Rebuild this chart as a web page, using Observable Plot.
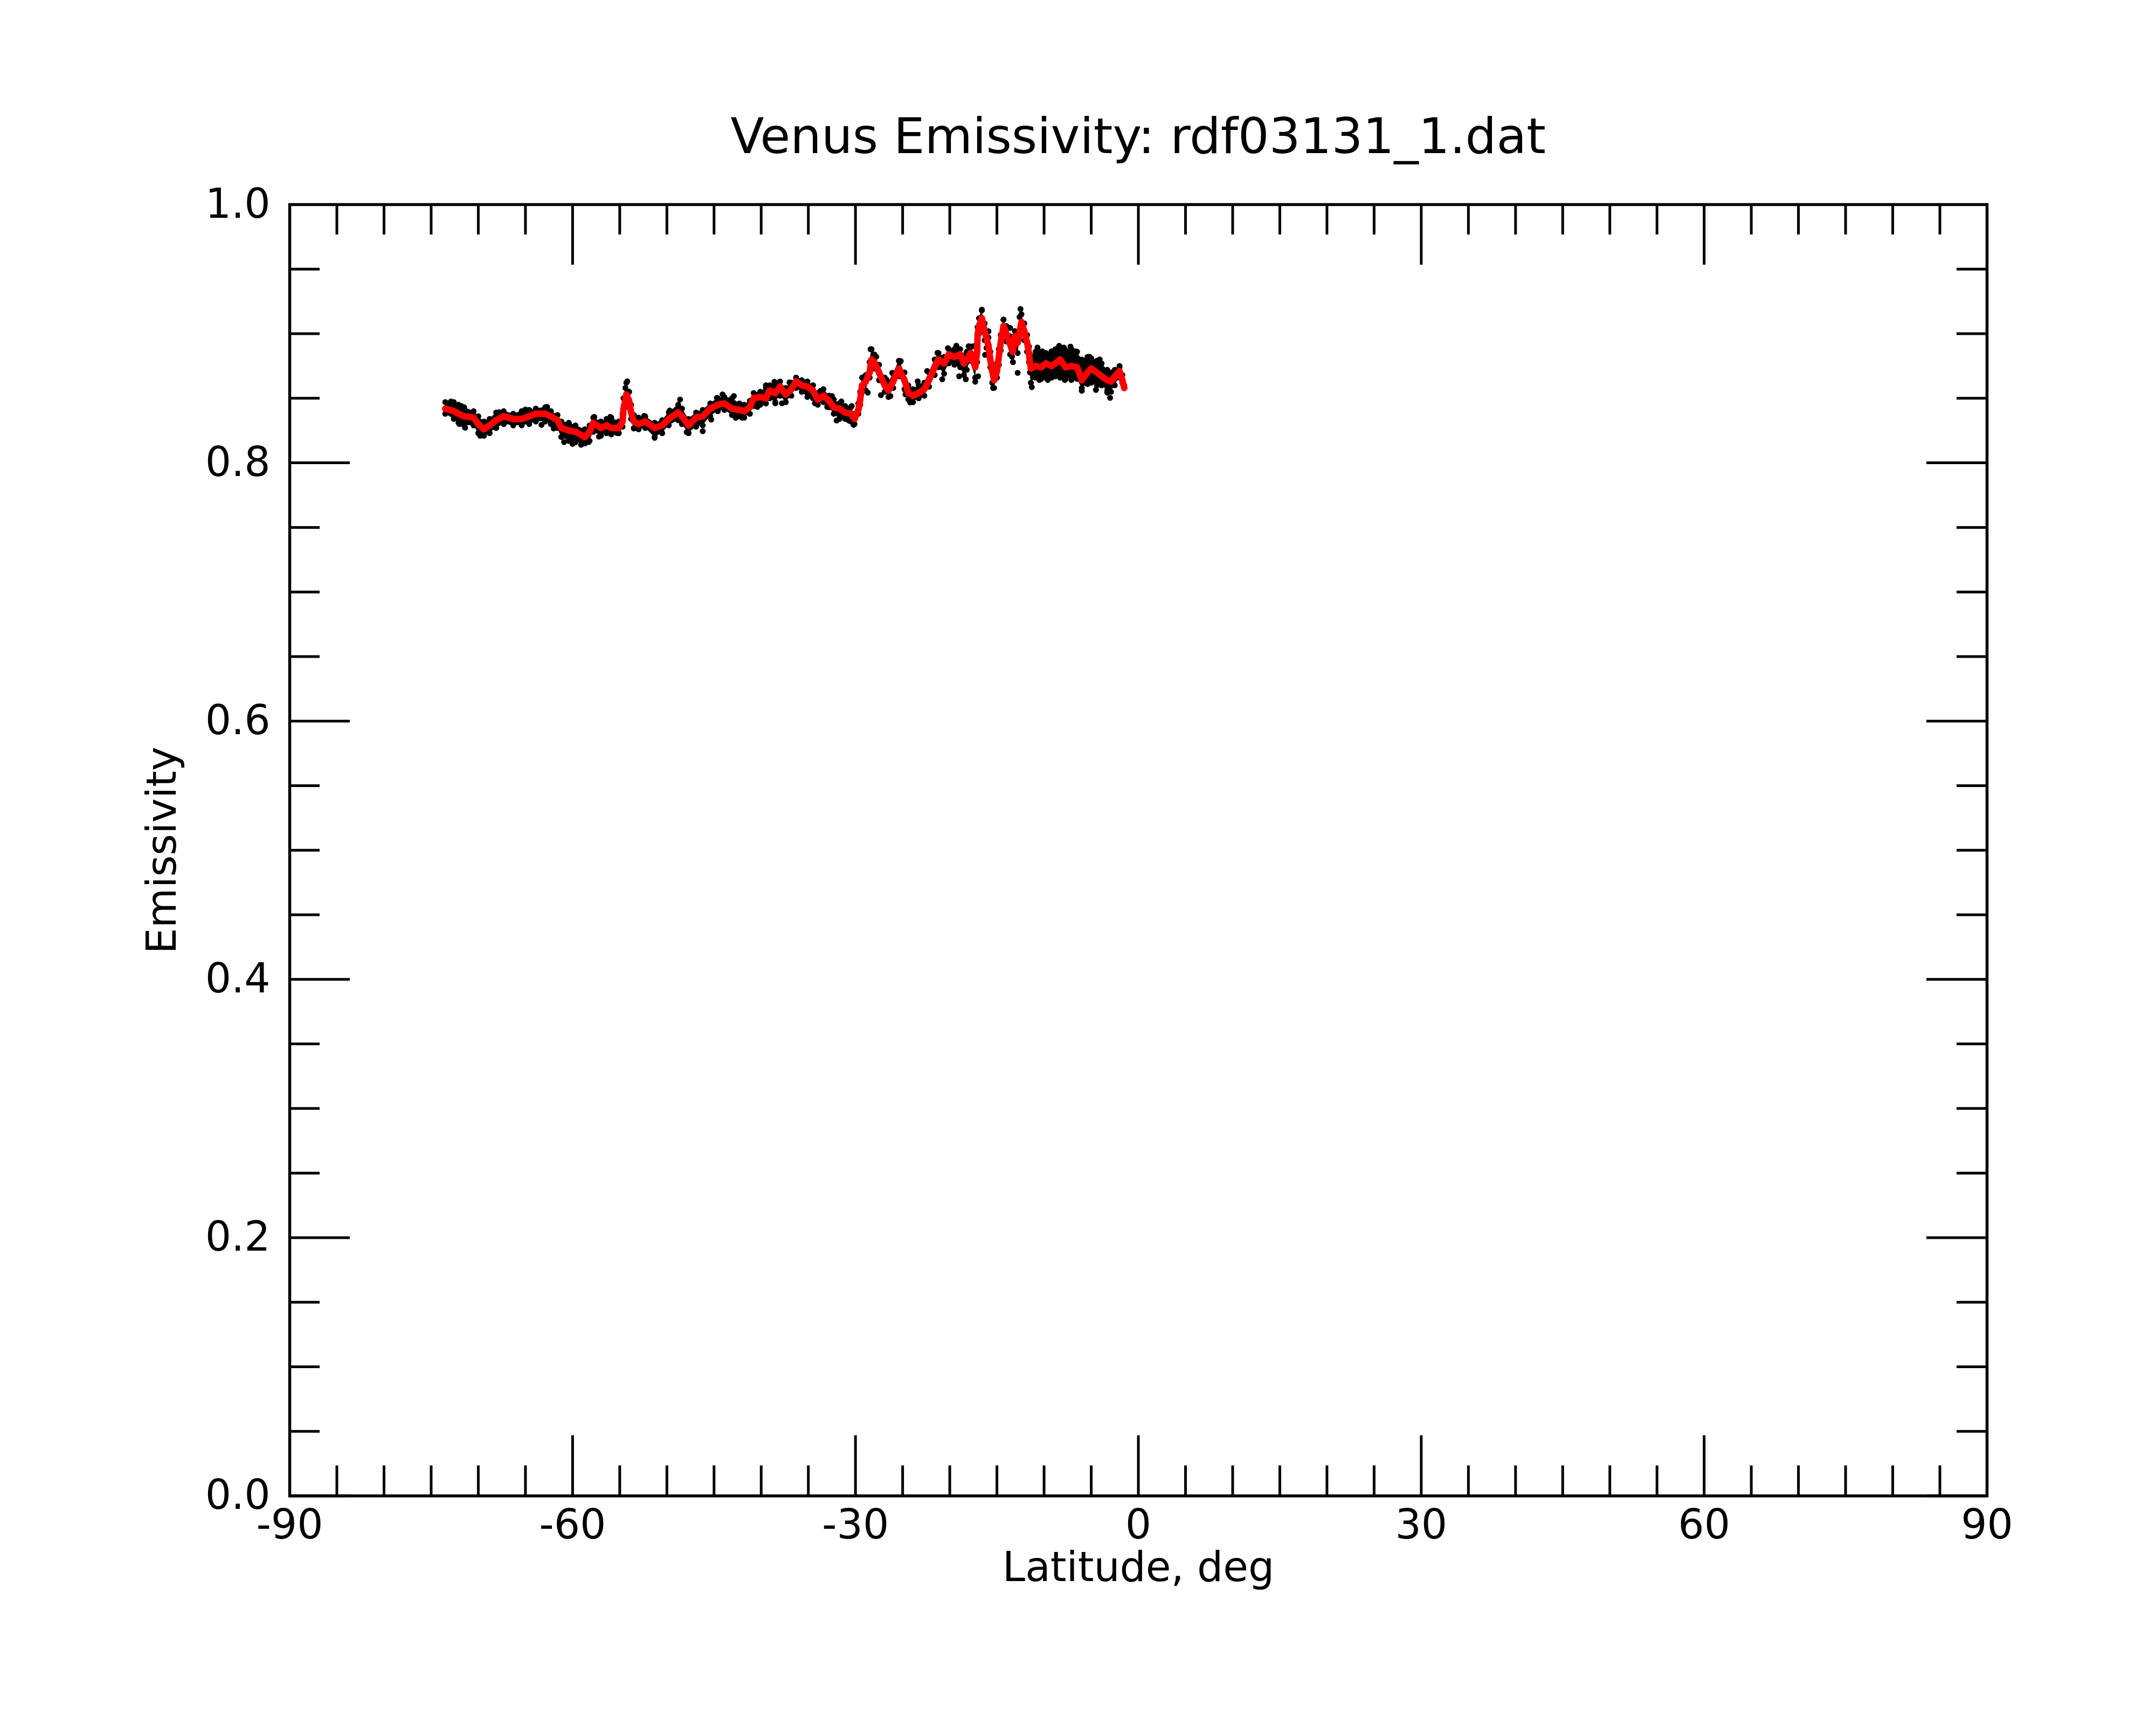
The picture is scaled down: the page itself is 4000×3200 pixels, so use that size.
<!DOCTYPE html>
<html>
<head>
<meta charset="utf-8">
<script src="https://cdn.jsdelivr.net/npm/d3@7"></script>
<script src="https://cdn.jsdelivr.net/npm/@observablehq/plot@0.6"></script>
<style>
  html, body { margin: 0; padding: 0; background: white; }
  #title { box-sizing: border-box; height: 330px; margin-left: 537px; width: 3149px; padding-top: 207px;
    font-family: "DejaVu Sans", sans-serif; font-size: 91px; line-height: 91px; text-align: center; color: black; white-space: nowrap; }
</style>
</head>
<body>
<div id="title">Venus Emissivity: rdf03131_1.dat</div>
<div id="chart"></div>
<script>
// Latitude samples (deg) of the smoothed (red) curve
const lat = [-73.5,-72.6,-72.1,-71.5,-70.5,-70.0,-69.4,-68.8,-68.1,-67.3,-66.3,-65.4,-64.6,-63.9,-62.9,-62.3,-61.6,-61.2,-60.4,-59.7,
  -58.7,-58.2,-57.8,-57.0,-56.4,-55.9,-55.1,-54.7,-54.6,-54.4,-54.3,-54.0,-53.8,-53.5,-53.0,-52.3,-51.3,-50.5,-49.8,-48.8,
  -48.4,-47.7,-46.9,-46.2,-45.4,-44.6,-43.9,-43.1,-42.3,-41.8,-41.2,-40.8,-40.1,-39.5,-39.1,-38.5,-38.0,-37.4,-36.8,-36.3,
  -35.7,-35.1,-34.5,-34.0,-33.4,-32.8,-32.3,-31.7,-31.1,-30.5,-30.1,-29.7,-29.5,-29.3,-28.9,-28.5,-28.3,-28.0,-27.5,-26.9,
  -26.5,-26.0,-25.4,-25.3,-24.8,-24.4,-23.9,-23.3,-22.7,-22.2,-21.6,-21.2,-20.6,-20.1,-19.5,-18.9,-18.5,-18.2,-17.8,-17.3,
  -17.1,-17.05,-16.9,-16.6,-16.3,-16.1,-15.9,-15.7,-15.5,-15.3,-15.0,-14.8,-14.6,-14.3,-14.0,-13.6,-13.3,-13.1,-12.8,-12.4,
  -12.1,-11.8,-11.6,-11.5,-11.4,-10.9,-10.3,-9.8,-9.2,-8.8,-8.3,-7.7,-7.1,-6.5,-6.0,-5.4,-5.0,-4.4,-3.9,-3.3,
  -2.9,-2.5,-2.0,-1.7,-1.5];
// Smoothed emissivity (red)
const smooth = [.842,.840,.838,.836,.835,.830,.826,.829,.833,.836,.834,.834,.836,.838,.838,.836,.833,.827,.825,.824,
  .820,.824,.831,.827,.829,.827,.827,.832,.842,.849,.853,.848,.839,.832,.830,.832,.827,.829,.834,.839,
  .836,.829,.835,.836,.842,.845,.846,.842,.841,.840,.843,.850,.851,.850,.856,.854,.859,.853,.857,.863,
  .860,.859,.856,.849,.852,.848,.843,.842,.839,.838,.834,.841,.849,.860,.863,.870,.880,.878,.870,.860,
  .856,.863,.873,.871,.864,.854,.852,.854,.857,.864,.874,.880,.877,.884,.882,.884,.877,.880,.885,.874,
  .886,.899,.906,.912,.902,.896,.891,.880,.871,.864,.871,.882,.893,.906,.900,.892,.886,.898,.893,.909,
  .902,.893,.885,.878,.873,.875,.874,.877,.875,.877,.880,.874,.875,.874,.864,.870,.873,.870,.867,.864,
  .863,.867,.871,.864,.858];
// Raw emissivity (black) upper and lower spread at the same latitudes
const upper = [.847,.847,.845,.843,.840,.836,.832,.834,.839,.840,.838,.840,.841,.842,.843,.840,.837,.832,.831,.829,
  .826,.829,.835,.832,.834,.835,.832,.838,.850,.858,.862,.855,.845,.837,.835,.836,.831,.833,.839,.845,
  .842,.834,.839,.841,.846,.850,.851,.850,.846,.845,.848,.854,.855,.858,.860,.861,.863,.858,.862,.866,
  .864,.863,.860,.854,.857,.852,.849,.846,.844,.843,.838,.846,.855,.866,.868,.878,.888,.884,.876,.866,
  .862,.869,.879,.878,.870,.860,.857,.860,.862,.870,.880,.885,.882,.888,.888,.888,.883,.886,.890,.884,
  .892,.905,.912,.918,.908,.901,.897,.886,.876,.870,.877,.888,.899,.911,.906,.898,.892,.902,.899,.915,
  .908,.899,.890,.884,.882,.886,.886,.885,.886,.888,.889,.887,.888,.886,.880,.882,.881,.879,.877,.872,
  .870,.872,.875,.868,.860];
const lower = [.838,.834,.831,.829,.829,.823,.821,.823,.827,.830,.829,.829,.830,.832,.832,.830,.827,.820,.817,.816,
  .815,.817,.824,.821,.823,.822,.823,.828,.838,.845,.848,.843,.834,.827,.826,.827,.820,.823,.829,.833,
  .830,.823,.828,.829,.836,.840,.841,.837,.836,.835,.838,.844,.845,.846,.850,.847,.852,.847,.852,.858,
  .855,.851,.850,.845,.847,.843,.838,.834,.834,.832,.830,.838,.845,.855,.856,.866,.875,.873,.864,.855,
  .851,.858,.868,.867,.857,.849,.847,.850,.852,.859,.868,.874,.869,.877,.876,.874,.868,.872,.879,.866,
  .878,.893,.900,.906,.895,.889,.884,.874,.862,.858,.866,.876,.887,.900,.894,.884,.878,.890,.885,.903,
  .895,.886,.878,.870,.862,.866,.865,.866,.866,.867,.866,.865,.866,.865,.858,.861,.862,.860,.860,.856,
  .855,.860,.866,.862,.858];
// Scattered raw points (black) away from the band
const outLat = [-72.9,-71.8,-72.0,-71.4,-69.8,-67.8,-65.0,-62.7,-63.3,-62.0,-60.9,-60.0,-59.1,-58.3,-57.7,-56.0,-57.2,-55.3,-54.2,-52.4,
  -51.3,-53.5,-48.6,-49.7,-47.9,-46.2,-45.3,-44.7,-44.1,-42.9,-42.7,-42.0,-40.4,-39.5,-38.6,-38.5,-37.8,-37.0,-36.2,-35.2,
  -34.3,-33.7,-33.0,-32.5,-32.0,-31.5,-30.7,-30.4,-30.2,-29.0,-28.7,-28.4,-27.8,-27.3,-26.3,-26.7,-26.1,-25.2,-24.7,-24.2,
  -23.4,-22.8,-22.4,-21.3,-20.8,-20.2,-19.3,-19.0,-18.3,-18.0,-17.5,-17.3,-17.0,-16.6,-15.9,-16.25,-15.4,-14.3,-13.6,-13.4,
  -12.8,-12.5,-12.6,-11.3,-10.7,-10.2,-10.5,-9.6,-9.2,-8.4,-7.9,-7.2,-7.8,-7.1,-6.7,-6.0,-5.2,-4.5,-4.1,-3.0,
  -3.3,-2.0];
const outVal = [.8475,.8440,.8301,.8272,.8210,.8392,.8413,.8433,.8294,.8266,.8161,.8147,.8140,.8161,.8356,.8356,.8203,.8231,.8631,.8364,
  .8194,.8266,.8490,.8405,.8238,.8245,.8335,.8503,.8530,.8517,.8349,.8349,.8433,.8600,.8628,.8461,.8461,.8622,.8643,.8628,
  .8461,.8558,.8433,.8517,.8328,.8475,.8328,.8440,.8294,.8670,.8544,.8880,.8822,.8524,.8517,.8643,.8697,.8788,.8530,.8468,
  .8631,.8524,.8711,.8852,.8647,.8888,.8907,.8670,.8647,.8903,.8903,.8628,.8670,.9186,.9019,.8836,.8580,.9108,.9045,.8822,
  .8697,.9191,.9129,.8586,.8893,.8864,.8642,.8642,.8864,.8906,.8893,.8900,.8642,.8642,.8864,.8558,.8822,.8565,.8801,.8503,
  .8544,.8739];
// Axis ticks
const xMajor = [-90,-60,-30,0,30,60,90];
const xMinor = [-85,-80,-75,-70,-65,-55,-50,-45,-40,-35,-25,-20,-15,-10,-5,5,10,15,20,25,35,40,45,50,55,65,70,75,80,85];
const yMajor = [0,0.2,0.4,0.6,0.8,1.0];
const yMinor = [0.05,0.1,0.15,0.25,0.3,0.35,0.45,0.5,0.55,0.65,0.7,0.75,0.85,0.9,0.95];

const W = 4000, H = 2870, ML = 537, MR = 314, MT = 49, MB = 425.5;
const FW = W - ML - MR, FH = H - MT - MB;
const majorLen = 112, minorLen = 56, tw = 5;

const band = lat.map((x, i) => ({x, s: smooth[i], hi: upper[i], lo: lower[i]}));
const outs = outLat.map((x, i) => ({x, y: outVal[i]}));

const chart = Plot.plot({
  width: W, height: H,
  marginLeft: ML, marginRight: MR, marginTop: MT, marginBottom: MB,
  style: {fontFamily: "DejaVu Sans", fontSize: "76px", background: "white", color: "black", overflow: "visible"},
  x: {domain: [-90, 90]},
  y: {domain: [0, 1]},
  marks: [
    Plot.areaY(band, {x: "x", y1: "lo", y2: "hi", fill: "black"}),
    Plot.dot(band, {x: "x", y: "hi", r: 5.5, fill: "black"}),
    Plot.dot(band, {x: "x", y: "lo", r: 5.5, fill: "black"}),
    Plot.dot(outs, {x: "x", y: "y", r: 5.5, fill: "black"}),
    Plot.line(band, {x: "x", y: "s", stroke: "red", strokeWidth: 12, strokeLinejoin: "round", strokeLinecap: "round"}),
    Plot.dot(band, {x: "x", y: "s", r: 6, fill: "red"}),
    // inward ticks, bottom
    Plot.ruleX(xMajor, {insetTop: FH - majorLen, stroke: "black", strokeWidth: tw}),
    Plot.ruleX(xMinor, {insetTop: FH - minorLen, stroke: "black", strokeWidth: tw}),
    // top
    Plot.ruleX(xMajor, {insetBottom: FH - majorLen, stroke: "black", strokeWidth: tw}),
    Plot.ruleX(xMinor, {insetBottom: FH - minorLen, stroke: "black", strokeWidth: tw}),
    // left
    Plot.ruleY(yMajor, {insetRight: FW - majorLen, stroke: "black", strokeWidth: tw}),
    Plot.ruleY(yMinor, {insetRight: FW - minorLen, stroke: "black", strokeWidth: tw}),
    // right
    Plot.ruleY(yMajor, {insetLeft: FW - majorLen, stroke: "black", strokeWidth: tw}),
    Plot.ruleY(yMinor, {insetLeft: FW - minorLen, stroke: "black", strokeWidth: tw}),
    Plot.frame({stroke: "black", strokeWidth: 5.5}),
    Plot.axisX({ticks: xMajor, tickSize: 0, tickPadding: 25, fontSize: 76, tickFormat: d => String(d), label: null}),
    Plot.axisY({ticks: yMajor, tickSize: 0, tickPadding: 36, fontSize: 76, tickFormat: d3.format(".1f"), label: null}),
    Plot.text(["Latitude, deg"], {text: d => d, frameAnchor: "bottom", lineAnchor: "middle", textAnchor: "middle", dy: 134, fontSize: 76, fill: "black"}),
    Plot.text(["Emissivity"], {text: d => d, frameAnchor: "left", lineAnchor: "middle", textAnchor: "middle", dx: -236, rotate: -90, fontSize: 76, fill: "black"})
  ]
});
document.getElementById("chart").appendChild(chart);
</script>
</body>
</html>
